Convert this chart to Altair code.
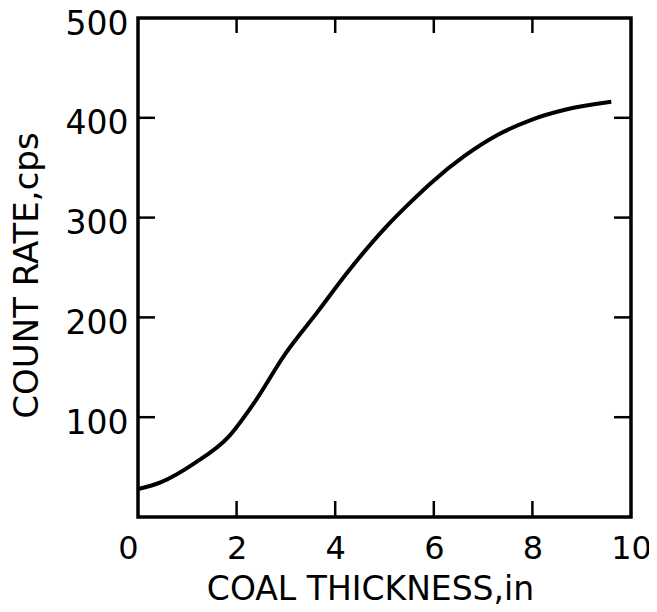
import altair as alt
import pandas as pd

# Curve
thickness = [0, 0.47, 1.15, 1.83, 2.35, 2.98, 3.65, 4.23, 5.0, 5.54, 5.95, 6.63, 7.3, 7.98, 8.66, 9.6]
count_rate = [28, 35, 54, 80, 114, 163, 206, 244, 289, 316, 335, 362, 383, 398, 408, 416]

x_label_values = [0, 2, 4, 6, 8, 10]
y_label_values = [100, 200, 300, 400, 500]
x_inner_ticks = [2, 4, 6, 8]
y_inner_ticks = [100, 200, 300, 400]

W, H = 493, 499
FONT = "DejaVu Sans"

curve = pd.DataFrame({"x": thickness, "y": count_rate})
xt = pd.DataFrame({"x": x_inner_ticks})
yt = pd.DataFrame({"y": y_inner_ticks})

xscale = alt.Scale(domain=[0, 10], nice=False)
yscale = alt.Scale(domain=[0, 500], nice=False)

xaxis = alt.Axis(
    values=x_label_values, ticks=False, tickSize=0, domain=False, grid=False,
    labelFont=FONT, labelFontSize=32, labelColor="black", labelPadding=16, labelFlush=False,
    labelAlign={"condition": {"test": "datum.value == 0", "value": "right"}, "value": "center"},
    titleFont=FONT, titleFontSize=33, titleFontWeight="normal",
    titleColor="black", titleX=232, titleY=72, titleAlign="center", titleBaseline="middle",
)
yaxis = alt.Axis(
    values=y_label_values, ticks=False, tickSize=0, domain=False, grid=False,
    labelFont=FONT, labelFontSize=33, labelColor="black", labelPadding=10, labelOffset=6,
    titleFont=FONT, titleFontSize=34, titleFontWeight="normal",
    titleColor="black", titleAngle=270, titleX=-111, titleY=257,
    titleAlign="center", titleBaseline="middle",
)

XT = "COAL THICKNESS,in"
YT = "COUNT RATE,cps"

line = alt.Chart(curve).mark_line(color="black", strokeWidth=4, interpolate="monotone").encode(
    x=alt.X("x:Q", scale=xscale, axis=xaxis, title=XT),
    y=alt.Y("y:Q", scale=yscale, axis=yaxis, title=YT),
)

tick_style = dict(color="black", strokeWidth=2.5)

bottom_ticks = alt.Chart(xt).mark_rule(**tick_style).encode(
    x=alt.X("x:Q", scale=xscale, axis=xaxis, title=XT), y=alt.value(H), y2=alt.value(H - 16))
top_ticks = alt.Chart(xt).mark_rule(**tick_style).encode(
    x=alt.X("x:Q", scale=xscale, axis=xaxis, title=XT), y=alt.value(0), y2=alt.value(15))
left_ticks = alt.Chart(yt).mark_rule(**tick_style).encode(
    y=alt.Y("y:Q", scale=yscale, axis=yaxis, title=YT), x=alt.value(0), x2=alt.value(17))
right_ticks = alt.Chart(yt).mark_rule(**tick_style).encode(
    y=alt.Y("y:Q", scale=yscale, axis=yaxis, title=YT), x=alt.value(W), x2=alt.value(W - 17))

chart = alt.layer(line, bottom_ticks, top_ticks, left_ticks, right_ticks).properties(
    width=W, height=H,
    autosize=alt.AutoSizeParams(type="none"),
    padding={"left": 130, "top": 10, "right": 18, "bottom": 90},
    background="white",
).configure_view(stroke="black", strokeWidth=3.5)

chart.save("out.html", embed_options={"renderer": "svg", "actions": False})
